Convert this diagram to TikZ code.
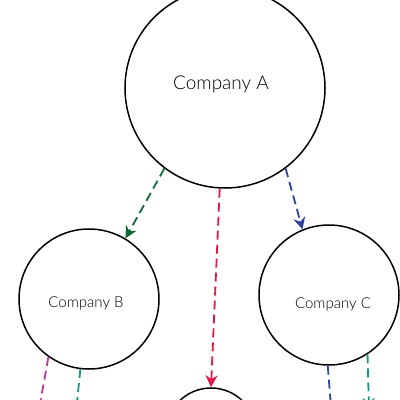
\documentclass[tikz,border=0pt]{standalone}
\usepackage{fontspec}
\setmainfont{Lato Light}
\usetikzlibrary{arrows.meta}
\definecolor{linkgreen}{HTML}{0E6B38}
\definecolor{linkred}{HTML}{DF1845}
\definecolor{linkblue}{HTML}{2E44A0}
\definecolor{linkpink}{HTML}{C0369E}
\definecolor{linkteal}{HTML}{16977C}
\tikzset{%
  firm/.style = {circle,draw,line width=1.5pt,inner sep=0pt},
  bigfirm/.style = {firm,minimum size=200pt},
  smallfirm/.style = {firm,minimum size=140pt},
  bigname/.style = {font=\fontsize{19}{21}\selectfont},
  smallname/.style = {font=\fontsize{15}{17}\selectfont},
  owns/.style = {-{Stealth[length=12pt,width=12pt]},line width=1.8pt,
        dash pattern=on 9pt off 5pt}
}
\begin{document}
\begin{tikzpicture}[x=1pt,y=-1pt]
    \clip (0,0) rectangle (400,400);
    \node[bigfirm,label={[bigname,xshift=-4pt,yshift=4pt]center:Company A}] (a) at (225,88) {};
    \node[smallfirm,label={[smallname,xshift=-3pt,yshift=-4pt]center:Company B}] (b) at (89,299) {};
    \node[smallfirm,label={[smallname,xshift=4pt,yshift=-9pt]center:Company C}] (c) at (329,295) {};
    \node[firm,minimum size=90pt] (d) at (211,433) {};
    % links leaving the page
    \coordinate (bl) at (35,432);
    \coordinate (bm) at (74,432);
    \coordinate (cm) at (333,432);
    \coordinate (cr) at (369,410);
    \draw[owns,linkgreen] (a.233) -- (b.59);
    \draw[owns,linkred] (a.267) -- (d.90);
    \draw[owns,linkblue] (a.307) -- (c.112);
    \draw[owns,linkpink] (b.235) -- (bl);
    \draw[owns,linkteal] (b.263) -- (bm);
    \draw[owns,linkblue] (c.269) -- (cm);
    \draw[owns,linkteal] (c.303) -- (cr);
\end{tikzpicture}
\end{document}
